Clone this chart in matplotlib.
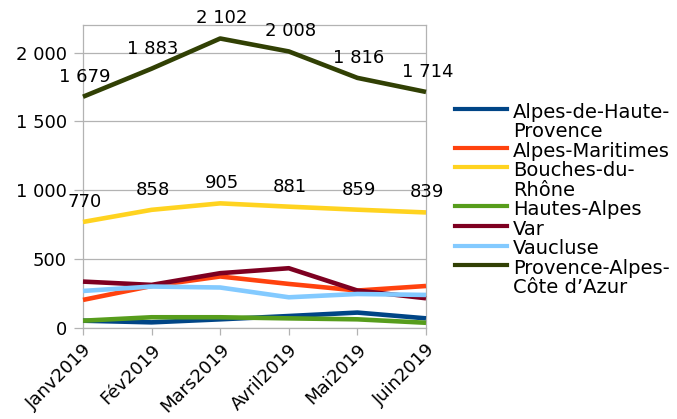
import numpy as np
import matplotlib
matplotlib.use("Agg")
import matplotlib.pyplot as plt
from matplotlib.ticker import FuncFormatter, MultipleLocator
from matplotlib.lines import Line2D

# donnees
mois = ["Janv2019", "Fév2019", "Mars2019", "Avril2019", "Mai2019", "Juin2019"]
alpes_haute_provence = [53, 41, 63, 87, 112, 70]
alpes_maritimes = [204, 305, 374, 320, 272, 305]
bouches_du_rhone = [770, 858, 905, 881, 859, 839]
hautes_alpes = [53, 78, 78, 70, 63, 38]
var = [337, 313, 398, 434, 272, 216]
vaucluse = [269, 301, 294, 223, 247, 240]
paca = [1679, 1883, 2102, 2008, 1816, 1714]

noms = ["Alpes-de-Haute-\nProvence", "Alpes-Maritimes", "Bouches-du-\nRhône",
        "Hautes-Alpes", "Var", "Vaucluse", "Provence-Alpes-\nCôte d’Azur"]
series = [alpes_haute_provence, alpes_maritimes, bouches_du_rhone,
          hautes_alpes, var, vaucluse, paca]
couleurs = ["#004586", "#ff420e", "#ffd320", "#579d1c", "#7e0021", "#83caff", "#314004"]
avec_etiquettes = [False, False, True, False, False, False, True]

plt.rcParams['font.family'] = ['DejaVu Sans']
fs = 13

def fmt(v, pos=None):
    return "{:,}".format(int(round(v))).replace(",", " ")

fig = plt.figure(figsize=(6.77, 4.19), dpi=100)
ax = fig.add_axes([83/677, 1-328/419, (426-83)/677, (328-25)/419])

x = np.arange(len(mois))
for s, c, lab in zip(series, couleurs, avec_etiquettes):
    ax.plot(x, s, color=c, lw=3.3, solid_capstyle='butt', zorder=3, clip_on=False)
    if lab:
        for xi, v in zip(x, s):
            ax.annotate(fmt(v), (xi, v), xytext=(1, 14.5), textcoords='offset points',
                        ha='center', va='center', fontsize=fs, zorder=4)

ax.set_xlim(0, len(mois)-1)
ax.set_ylim(0, 2200)
ax.yaxis.set_major_locator(MultipleLocator(500))
ax.yaxis.set_major_formatter(FuncFormatter(fmt))
ax.set_xticks(x)
ax.set_xticklabels(mois, rotation=45, ha='right', va='top', rotation_mode='anchor')
ax.grid(axis='y', color='#b3b3b3', lw=0.9, zorder=0)
for sp in ax.spines.values():
    sp.set_color('#b3b3b3')
    sp.set_linewidth(0.9)
ax.tick_params(axis='y', length=6.5, width=0.9, color='#b3b3b3', pad=5, labelsize=fs)
ax.tick_params(axis='x', length=5, width=0.9, color='#b3b3b3', pad=4, labelsize=fs)

# legende dessinee a la main (trait aligne sur la premiere ligne)
ligne = 0
pas = 19.5
for nom, c in zip(noms, couleurs):
    y0 = 1 - (112 + ligne*pas)/419
    fig.add_artist(Line2D([455/677, 507/677], [y0 + 3/419]*2, color=c, lw=3,
                          transform=fig.transFigure))
    for morceau in nom.split("\n"):
        yc = 1 - (112 + ligne*pas)/419
        fig.text(513/677, yc, morceau, fontsize=14, va='center', ha='left',
                 transform=fig.transFigure)
        ligne += 1

fig.savefig("out.png", dpi=100)
